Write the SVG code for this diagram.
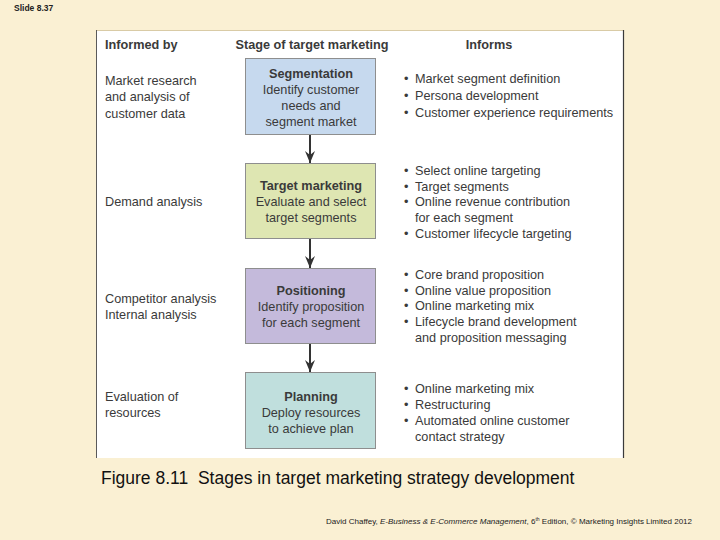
<svg xmlns="http://www.w3.org/2000/svg" width="720" height="540" viewBox="0 0 720 540">
<defs>
<style>
.t{font-family:"Liberation Sans",Arial,Helvetica,sans-serif;font-size:12.7px;fill:#3a3a3a}
.b{font-weight:bold}
.c{text-anchor:middle}
.box{stroke:#8e8e8e;stroke-width:1}
.conn{stroke:#333;stroke-width:2;fill:none}
</style>
<marker id="ah" viewBox="0 0 12 10" refX="12" refY="5" markerWidth="12" markerHeight="10" markerUnits="userSpaceOnUse" orient="auto">
<path d="M0,0 L12,5 L0,10 L4,5 Z" fill="#333"/>
</marker>
</defs>
<rect x="0" y="0" width="720" height="540" fill="#FAF0D3"/>
<text x="14" y="11" font-family="Liberation Sans,Arial,sans-serif" font-size="8.5" font-weight="bold" fill="#222">Slide 8.37</text>
<g id="panel">
<rect x="96" y="30" width="527" height="428" fill="#FFFFFF"/>
<line x1="96" y1="30.5" x2="623" y2="30.5" stroke="#D9CBA6" stroke-width="1"/>
<line x1="96.5" y1="30" x2="96.5" y2="458" stroke="#5a5a5a" stroke-width="1"/>
<line x1="623.5" y1="30" x2="623.5" y2="458" stroke="#3a3a3a" stroke-width="1.2"/>
</g>
<g id="headers">
<text class="t b" x="105" y="49">Informed by</text>
<text class="t b c" x="312" y="49">Stage of target marketing</text>
<text class="t b c" x="489" y="49">Informs</text>
</g>
<g id="connectors">
<line class="conn" x1="310" y1="135" x2="310" y2="163" marker-end="url(#ah)"/>
<line class="conn" x1="310" y1="239" x2="310" y2="268" marker-end="url(#ah)"/>
<line class="conn" x1="310" y1="344" x2="310" y2="372" marker-end="url(#ah)"/>
</g>
<g id="segmentation">
<rect class="box" x="245.5" y="58.5" width="130" height="76" fill="#C6D9EE"/>
<text class="t b c" x="311" y="78">Segmentation</text>
<text class="t c" x="311" y="94">Identify customer</text>
<text class="t c" x="311" y="110">needs and</text>
<text class="t c" x="311" y="126">segment market</text>
</g>
<g id="target-marketing">
<rect class="box" x="245.5" y="163.5" width="130" height="75" fill="#DEE6B2"/>
<text class="t b c" x="311" y="190">Target marketing</text>
<text class="t c" x="311" y="206">Evaluate and select</text>
<text class="t c" x="311" y="222">target segments</text>
</g>
<g id="positioning">
<rect class="box" x="245.5" y="268.5" width="130" height="75" fill="#C4BADB"/>
<text class="t b c" x="311" y="294.5">Positioning</text>
<text class="t c" x="311" y="310.5">Identify proposition</text>
<text class="t c" x="311" y="326.5">for each segment</text>
</g>
<g id="planning">
<rect class="box" x="245.5" y="372.5" width="130" height="76" fill="#C0DFDD"/>
<text class="t b c" x="311" y="400.5">Planning</text>
<text class="t c" x="311" y="416.5">Deploy resources</text>
<text class="t c" x="311" y="432.5">to achieve plan</text>
</g>
<g id="informed-by">
<text class="t" x="105" y="85">Market research</text>
<text class="t" x="105" y="101">and analysis of</text>
<text class="t" x="105" y="117.5">customer data</text>
<text class="t" x="105" y="206">Demand analysis</text>
<text class="t" x="105" y="302.5">Competitor analysis</text>
<text class="t" x="105" y="318.5">Internal analysis</text>
<text class="t" x="105" y="400.5">Evaluation of</text>
<text class="t" x="105" y="416.5">resources</text>
</g>
<g id="informs">
<text class="t" x="404" y="83">•</text><text class="t" x="415" y="83">Market segment definition</text>
<text class="t" x="404" y="99.5">•</text><text class="t" x="415" y="99.5">Persona development</text>
<text class="t" x="404" y="116.5">•</text><text class="t" x="415" y="116.5">Customer experience requirements</text>
<text class="t" x="404" y="175">•</text><text class="t" x="415" y="175">Select online targeting</text>
<text class="t" x="404" y="190.5">•</text><text class="t" x="415" y="190.5">Target segments</text>
<text class="t" x="404" y="206">•</text><text class="t" x="415" y="206">Online revenue contribution</text>
<text class="t" x="415" y="222">for each segment</text>
<text class="t" x="404" y="238">•</text><text class="t" x="415" y="238">Customer lifecycle targeting</text>
<text class="t" x="404" y="278.5">•</text><text class="t" x="415" y="278.5">Core brand proposition</text>
<text class="t" x="404" y="294.5">•</text><text class="t" x="415" y="294.5">Online value proposition</text>
<text class="t" x="404" y="310">•</text><text class="t" x="415" y="310">Online marketing mix</text>
<text class="t" x="404" y="326">•</text><text class="t" x="415" y="326">Lifecycle brand development</text>
<text class="t" x="415" y="341.5">and proposition messaging</text>
<text class="t" x="404" y="393">•</text><text class="t" x="415" y="393">Online marketing mix</text>
<text class="t" x="404" y="409">•</text><text class="t" x="415" y="409">Restructuring</text>
<text class="t" x="404" y="425">•</text><text class="t" x="415" y="425">Automated online customer</text>
<text class="t" x="415" y="440.5">contact strategy</text>
</g>
<text x="101" y="484" font-family="Liberation Sans,Arial,sans-serif" font-size="17.5" fill="#111" xml:space="preserve">Figure 8.11  Stages in target marketing strategy development</text>
<text x="326" y="524" font-family="Liberation Sans,Arial,sans-serif" font-size="8" fill="#222" textLength="366" lengthAdjust="spacingAndGlyphs">David Chaffey, <tspan font-style="italic">E-Business &amp; E-Commerce Management</tspan>, 6<tspan font-size="5" dy="-3">th</tspan><tspan dy="3"> Edition, © Marketing Insights Limited 2012</tspan></text>
</svg>
